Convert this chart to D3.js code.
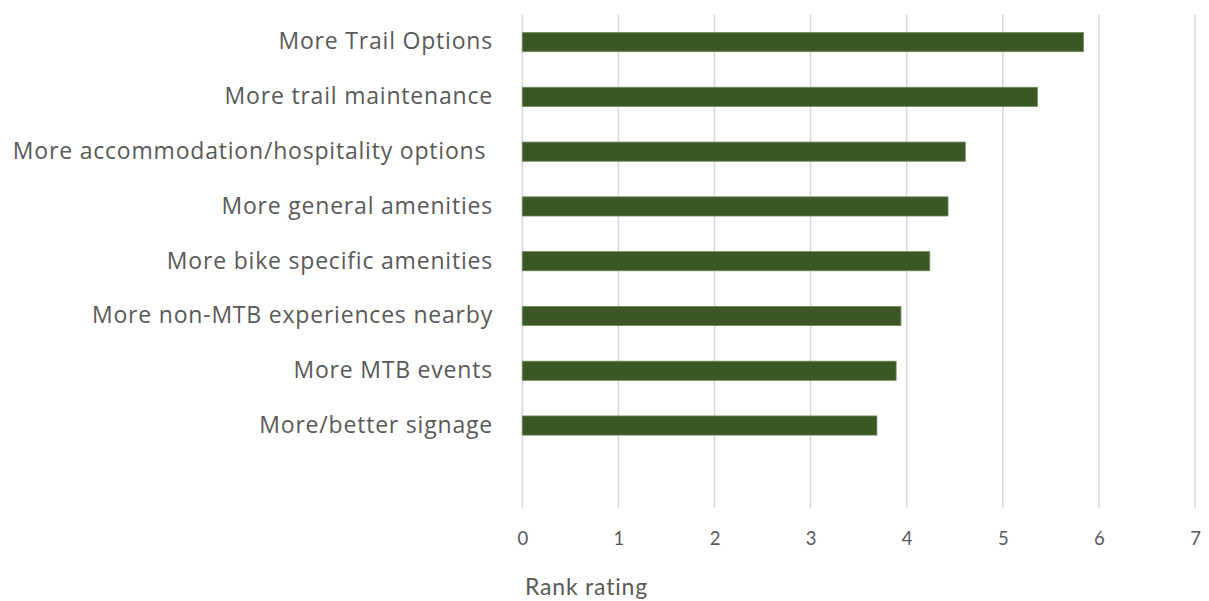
<!DOCTYPE html>
<html>
<head>
<meta charset="utf-8">
<script src="https://cdn.jsdelivr.net/npm/d3@7"></script>
<style>
  html, body { margin: 0; padding: 0; background: #ffffff; }
  svg { display: block; }
</style>
</head>
<body>
<svg id="chart" width="1209" height="601"></svg>
<script>
// Categories listed bottom-to-top as in the source (first one is an empty row)
const categories = [
  "",
  "More/better signage",
  "More MTB events",
  "More non-MTB experiences nearby",
  "More bike specific amenities",
  "More general amenities",
  "More accommodation/hospitality options ",
  "More trail maintenance",
  "More Trail Options"
];
const values = [null, 3.69, 3.89, 3.94, 4.24, 4.43, 4.61, 5.36, 5.84];
const xTicks = [0, 1, 2, 3, 4, 5, 6, 7];
const xTitle = "Rank rating";

const svg = d3.select("#chart");
const plot = { left: 522.3, right: 1195, top: 14.7, bottom: 507.7 };

const x = d3.scaleLinear().domain([0, 7]).range([plot.left, plot.right]);
const order = categories.slice().reverse();
const vals = values.slice().reverse();
const y = d3.scaleBand()
  .domain(order.map((d, i) => i))
  .range([plot.top, plot.bottom])
  .paddingInner(0.65).paddingOuter(0.325);

// gridlines
svg.append("g")
  .selectAll("line")
  .data(xTicks)
  .join("line")
  .attr("x1", d => x(d)).attr("x2", d => x(d))
  .attr("y1", plot.top).attr("y2", plot.bottom)
  .attr("stroke", "#d9d9d9")
  .attr("stroke-width", 1.6);

// bars
svg.append("g")
  .selectAll("rect")
  .data(order.map((c, i) => ({ c, v: vals[i], i })).filter(d => d.v != null))
  .join("rect")
  .attr("x", x(0))
  .attr("y", d => y(d.i))
  .attr("width", d => x(d.v) - x(0))
  .attr("height", y.bandwidth())
  .attr("fill", "#3b5724")
  .attr("stroke", "#6f8b5c")
  .attr("stroke-width", 0.8);

// category labels
svg.append("g")
  .selectAll("text")
  .data(order.map((c, i) => ({ c, i })).filter(d => d.c !== ""))
  .join("text")
  .attr("x", 493)
  .attr("y", d => y(d.i) + y.bandwidth() / 2)
  .attr("dy", "0.32em")
  .attr("text-anchor", "end")
  .style("white-space", "pre")
  .attr("font-family", "'Open Sans', Lato, sans-serif")
  .attr("font-size", 23)
  .attr("letter-spacing", 0.8)
  .attr("fill", "#595959")
  .text(d => d.c);

// x axis tick labels
const xAxis = d3.axisBottom(x).tickValues(xTicks).tickSize(0).tickPadding(0).tickFormat(d3.format("d"));
const gx = svg.append("g").attr("transform", `translate(0, 532)`).call(xAxis);
gx.select(".domain").remove();
gx.selectAll("text")
  .attr("font-family", "Lato, 'Open Sans', sans-serif")
  .attr("font-size", 18.5)
  .attr("fill", "#595959");

// axis title
svg.append("text")
  .attr("x", 525)
  .attr("y", 595)
  .attr("font-family", "Lato, 'Open Sans', sans-serif")
  .attr("font-size", 23)
  .attr("letter-spacing", 0.8)
  .attr("fill", "#595959")
  .text(xTitle);
</script>
</body>
</html>
